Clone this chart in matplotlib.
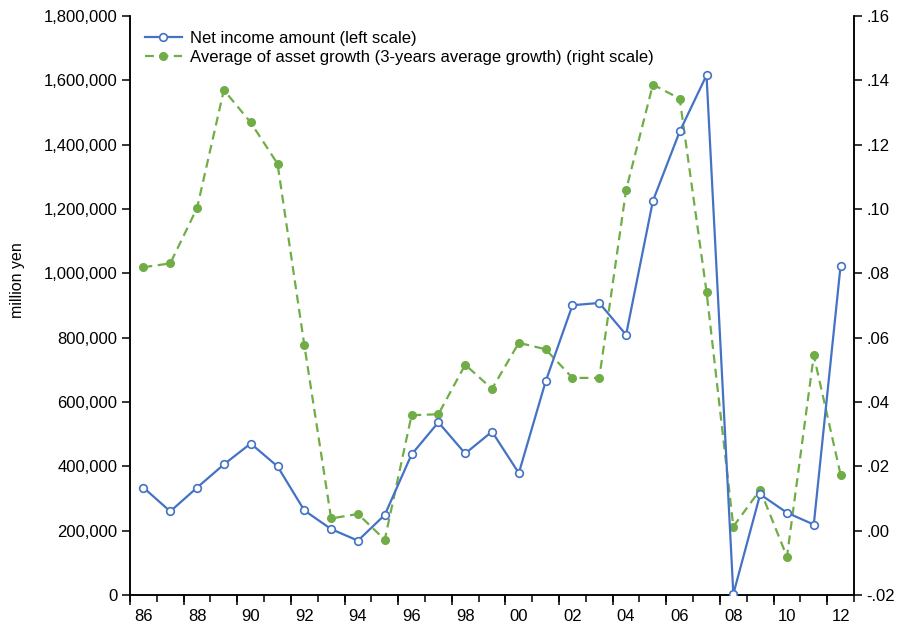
import numpy as np
import matplotlib.pyplot as plt
from matplotlib.ticker import FuncFormatter

plt.rcParams['font.family'] = ['Liberation Sans', 'DejaVu Sans']

years = list(range(1986, 2013))

net_income = [334000, 260000, 334000, 406000, 471000, 400000, 263000, 205000, 169000,
              249000, 437000, 537000, 440000, 508000, 379000, 664000, 901000, 908000,
              809000, 1225000, 1441000, 1616000, 3000, 313000, 256000, 219000, 1024000]

asset_growth = [0.0819, 0.0831, 0.1003, 0.1370, 0.1269, 0.1141, 0.0577, 0.0038, 0.0052,
                -0.0028, 0.0359, 0.0362, 0.0516, 0.0441, 0.0584, 0.0564, 0.0475, 0.0475,
                0.1059, 0.1387, 0.1343, 0.0743, 0.0013, 0.0127, -0.0081, 0.0545, 0.0174]

label_left = "Net income amount (left scale)"
label_right = "Average of asset growth (3-years average growth) (right scale)"

BLUE = '#4472C4'
GREEN = '#70AD47'
FS = 12

fig = plt.figure(figsize=(8.98, 6.28), dpi=100)
ax = fig.add_axes([0.1448, 0.0525, 0.951 - 0.1448, 0.9745 - 0.0525])
ax2 = ax.twinx()

l1, = ax.plot(years, net_income, '-o', color=BLUE, lw=1.6, markersize=5.5,
              markerfacecolor='white', markeredgecolor=BLUE, markeredgewidth=1.2,
              label=label_left, zorder=3)
l2, = ax2.plot(years, asset_growth, '--o', color=GREEN, lw=1.6, markersize=5.5,
               markerfacecolor=GREEN, markeredgecolor=GREEN, dashes=(4, 2.5),
               label=label_right)

ax.set_xlim(years[0] - 0.5, years[-1] + 0.5)
ax.set_ylim(0, 1800000)
ax2.set_ylim(-0.02, 0.16)

ax.set_yticks(np.arange(0, 1800001, 200000))
ax.yaxis.set_major_formatter(FuncFormatter(lambda v, p: f"{int(v):,}"))
ax2.set_yticks(np.arange(-0.02, 0.1601, 0.02))
ax2.yaxis.set_major_formatter(FuncFormatter(lambda v, p: f"{v:.2f}".replace("0.", ".")))

# labels centred on even years, ticks on year boundaries
even = [y for y in years if y % 2 == 0]
ax.set_xticks(even)
ax.set_xticklabels([f"{y % 100:02d}" for y in even])
ax.set_xticks(np.arange(years[0] - 0.5, years[-1] + 1), minor=True)
ax.tick_params(axis='x', which='major', length=0, pad=10, labelsize=FS)
ax.tick_params(axis='x', which='minor', length=5, width=1.1, direction='out')
sec = ax.secondary_xaxis(0)
sec.set_xticks(np.arange(years[0] - 0.5, years[-1] + 1, 2))
sec.set_xticklabels([])
sec.tick_params(length=7, width=1.1)
sec.spines['bottom'].set_visible(False)

ax.tick_params(axis='y', length=6, width=1.1, labelsize=FS, pad=3)
ax2.tick_params(axis='y', length=6, width=1.1, labelsize=FS, pad=3)

for a in (ax, ax2):
    a.spines['top'].set_visible(False)
    for s in ('left', 'right', 'bottom'):
        a.spines[s].set_linewidth(1.1)

ax.set_zorder(ax2.get_zorder() + 1)
ax.patch.set_visible(False)

fig.text(18 / 898, 1 - 280 / 628, "million yen", rotation=90, fontsize=11.5,
         ha='center', va='center')

ax.legend([l1, l2], [label_left, label_right], loc='upper left', frameon=False,
          fontsize=FS, bbox_to_anchor=(0.0, 1.0), handlelength=2.2,
          handletextpad=0.5, labelspacing=0.25, borderaxespad=0.5)

fig.savefig('out.png', dpi=100)
